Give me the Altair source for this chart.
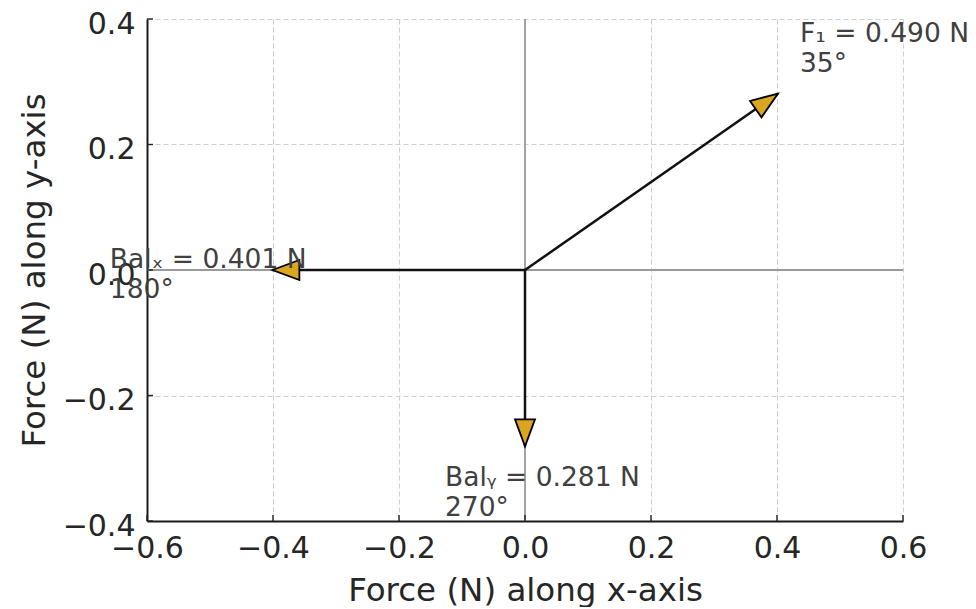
import math
import altair as alt
import pandas as pd

# ---- data ----
names = ["F₁", "Balₓ", "Balᵧ"]
magnitudes = [0.490, 0.401, 0.281]
angles_deg = [35, 180, 270]
label_x = [0.4365, -0.659, -0.127]
label_y = [0.363, 0.003, -0.344]
x_ticks = [-0.6, -0.4, -0.2, 0.0, 0.2, 0.4, 0.6]
y_ticks = [-0.4, -0.2, 0.0, 0.2, 0.4]

W, H = 756, 502
FONT = "DejaVu Sans"

rows = []
for n, m, a, lx, ly in zip(names, magnitudes, angles_deg, label_x, label_y):
    r = math.radians(a)
    rows.append(dict(
        name=n, x0=0.0, y0=0.0,
        fx=round(m * math.cos(r), 6), fy=round(m * math.sin(r), 6),
        rot=(90 - a) % 360, lx=lx, ly=ly,
        label=f"{n} = {m:.3f} N\n{a}°",
    ))
df = pd.DataFrame(rows)

xs = alt.Scale(domain=[-0.6, 0.6], nice=False, zero=False)
ys = alt.Scale(domain=[-0.4, 0.4], nice=False, zero=False)

x_axis = alt.Axis(values=x_ticks, format=".1f", title="Force (N) along x-axis",
                  titleBaseline="alphabetic", titleX=W / 2, titleY=79,
                  labelPadding=12, labelFlush=False)
y_axis = alt.Axis(values=y_ticks, format=".1f", title="Force (N) along y-axis",
                  titleBaseline="alphabetic", titleX=-103, titleY=H / 2,
                  labelPadding=12, labelOffset=5, labelFlush=False)

X = lambda f: alt.X(f, type="quantitative", scale=xs, axis=x_axis)
Y = lambda f: alt.Y(f, type="quantitative", scale=ys, axis=y_axis)

zero_df = pd.DataFrame({"v": [0.0]})
zero_h = alt.Chart(zero_df).mark_rule(color="#9a9a9a", strokeWidth=1.8).encode(y=Y("v"))
zero_v = alt.Chart(zero_df).mark_rule(color="#9a9a9a", strokeWidth=1.8).encode(x=X("v"))

xt = pd.DataFrame({"t": x_ticks})
yt = pd.DataFrame({"t": y_ticks})
ticks_x = alt.Chart(xt).mark_rule(color="#222222", strokeWidth=1.4).encode(
    x=X("t"), y=alt.value(H), y2=alt.value(H - 6))
ticks_y = alt.Chart(yt).mark_rule(color="#222222", strokeWidth=1.4).encode(
    y=Y("t"), x=alt.value(0), x2=alt.value(6))

base = alt.Chart(df)
shafts = base.mark_rule(color="#111111", strokeWidth=2.5).encode(
    x=X("x0"), y=Y("y0"), x2="fx", y2="fy")

head_path = "M0,0L0.74,2L-0.74,2Z"
heads = base.mark_point(shape=head_path, size=729, filled=True, fill="#DAA520",
                        stroke="black", strokeWidth=1.8, opacity=1,
                        strokeJoin="miter").encode(
    x=X("fx"), y=Y("fy"), angle=alt.Angle("rot:Q", scale=None))

texts = base.mark_text(align="left", baseline="alphabetic", lineBreak="\n",
                       lineHeight=30, font=FONT, fontSize=26.5, color="#404040",
                       clip=False).encode(
    x=X("lx"), y=Y("ly"), text="label:N")

chart = alt.layer(zero_h, zero_v, ticks_x, ticks_y, shafts, heads, texts).properties(
    width=W, height=H,
    autosize=alt.AutoSizeParams(type="none"),
    padding={"left": 139, "top": 11, "right": 65, "bottom": 86},
).configure_view(stroke=None).configure_axis(
    grid=True, gridDash=[5, 3], gridColor="#cfcfcf", gridWidth=1,
    domainColor="#1a1a1a", domainWidth=2, ticks=False, tickSize=0,
    labelFont=FONT, labelFontSize=30, labelColor="#262626",
    titleFont=FONT, titleFontSize=32.5, titleFontWeight="normal", titleColor="#262626",
)

chart.save("out.html", embed_options={"renderer": "svg", "actions": False})
